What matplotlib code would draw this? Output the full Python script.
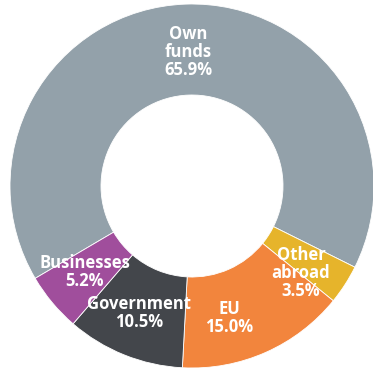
import matplotlib.pyplot as plt

labels = ["Own\nfunds", "Other\nabroad", "EU", "Government", "Businesses"]
shares = [65.9, 3.5, 15.0, 10.5, 5.2]
colors = ["#93a1aa", "#e6b42b", "#f2853d", "#43464b", "#a04e9c"]
# label anchor positions in pixels (x, y from top)
label_pos = [(188, 52), (301, 273), (229, 318), (139, 313), (85, 272)]

H = 371
fig = plt.figure(figsize=(3.73, 3.71), dpi=100)
ax = fig.add_axes([0, 0, 1, 1])

ax.pie(
    shares,
    colors=colors,
    startangle=210.5,
    counterclock=False,
    center=(192, H - 186),
    radius=182,
    wedgeprops=dict(width=91, edgecolor="white", linewidth=0.6),
)

for lab, val, (x, y) in zip(labels, shares, label_pos):
    ax.text(x, H - y, f"{lab}\n{val:.1f}%", ha="center", va="center",
            color="white", fontsize=12, fontweight="bold",
            family="Open Sans", linespacing=1.0)

ax.set_xlim(0, 373)
ax.set_ylim(0, H)
ax.set_aspect("equal")
ax.axis("off")

fig.savefig("out.png", dpi=100)
